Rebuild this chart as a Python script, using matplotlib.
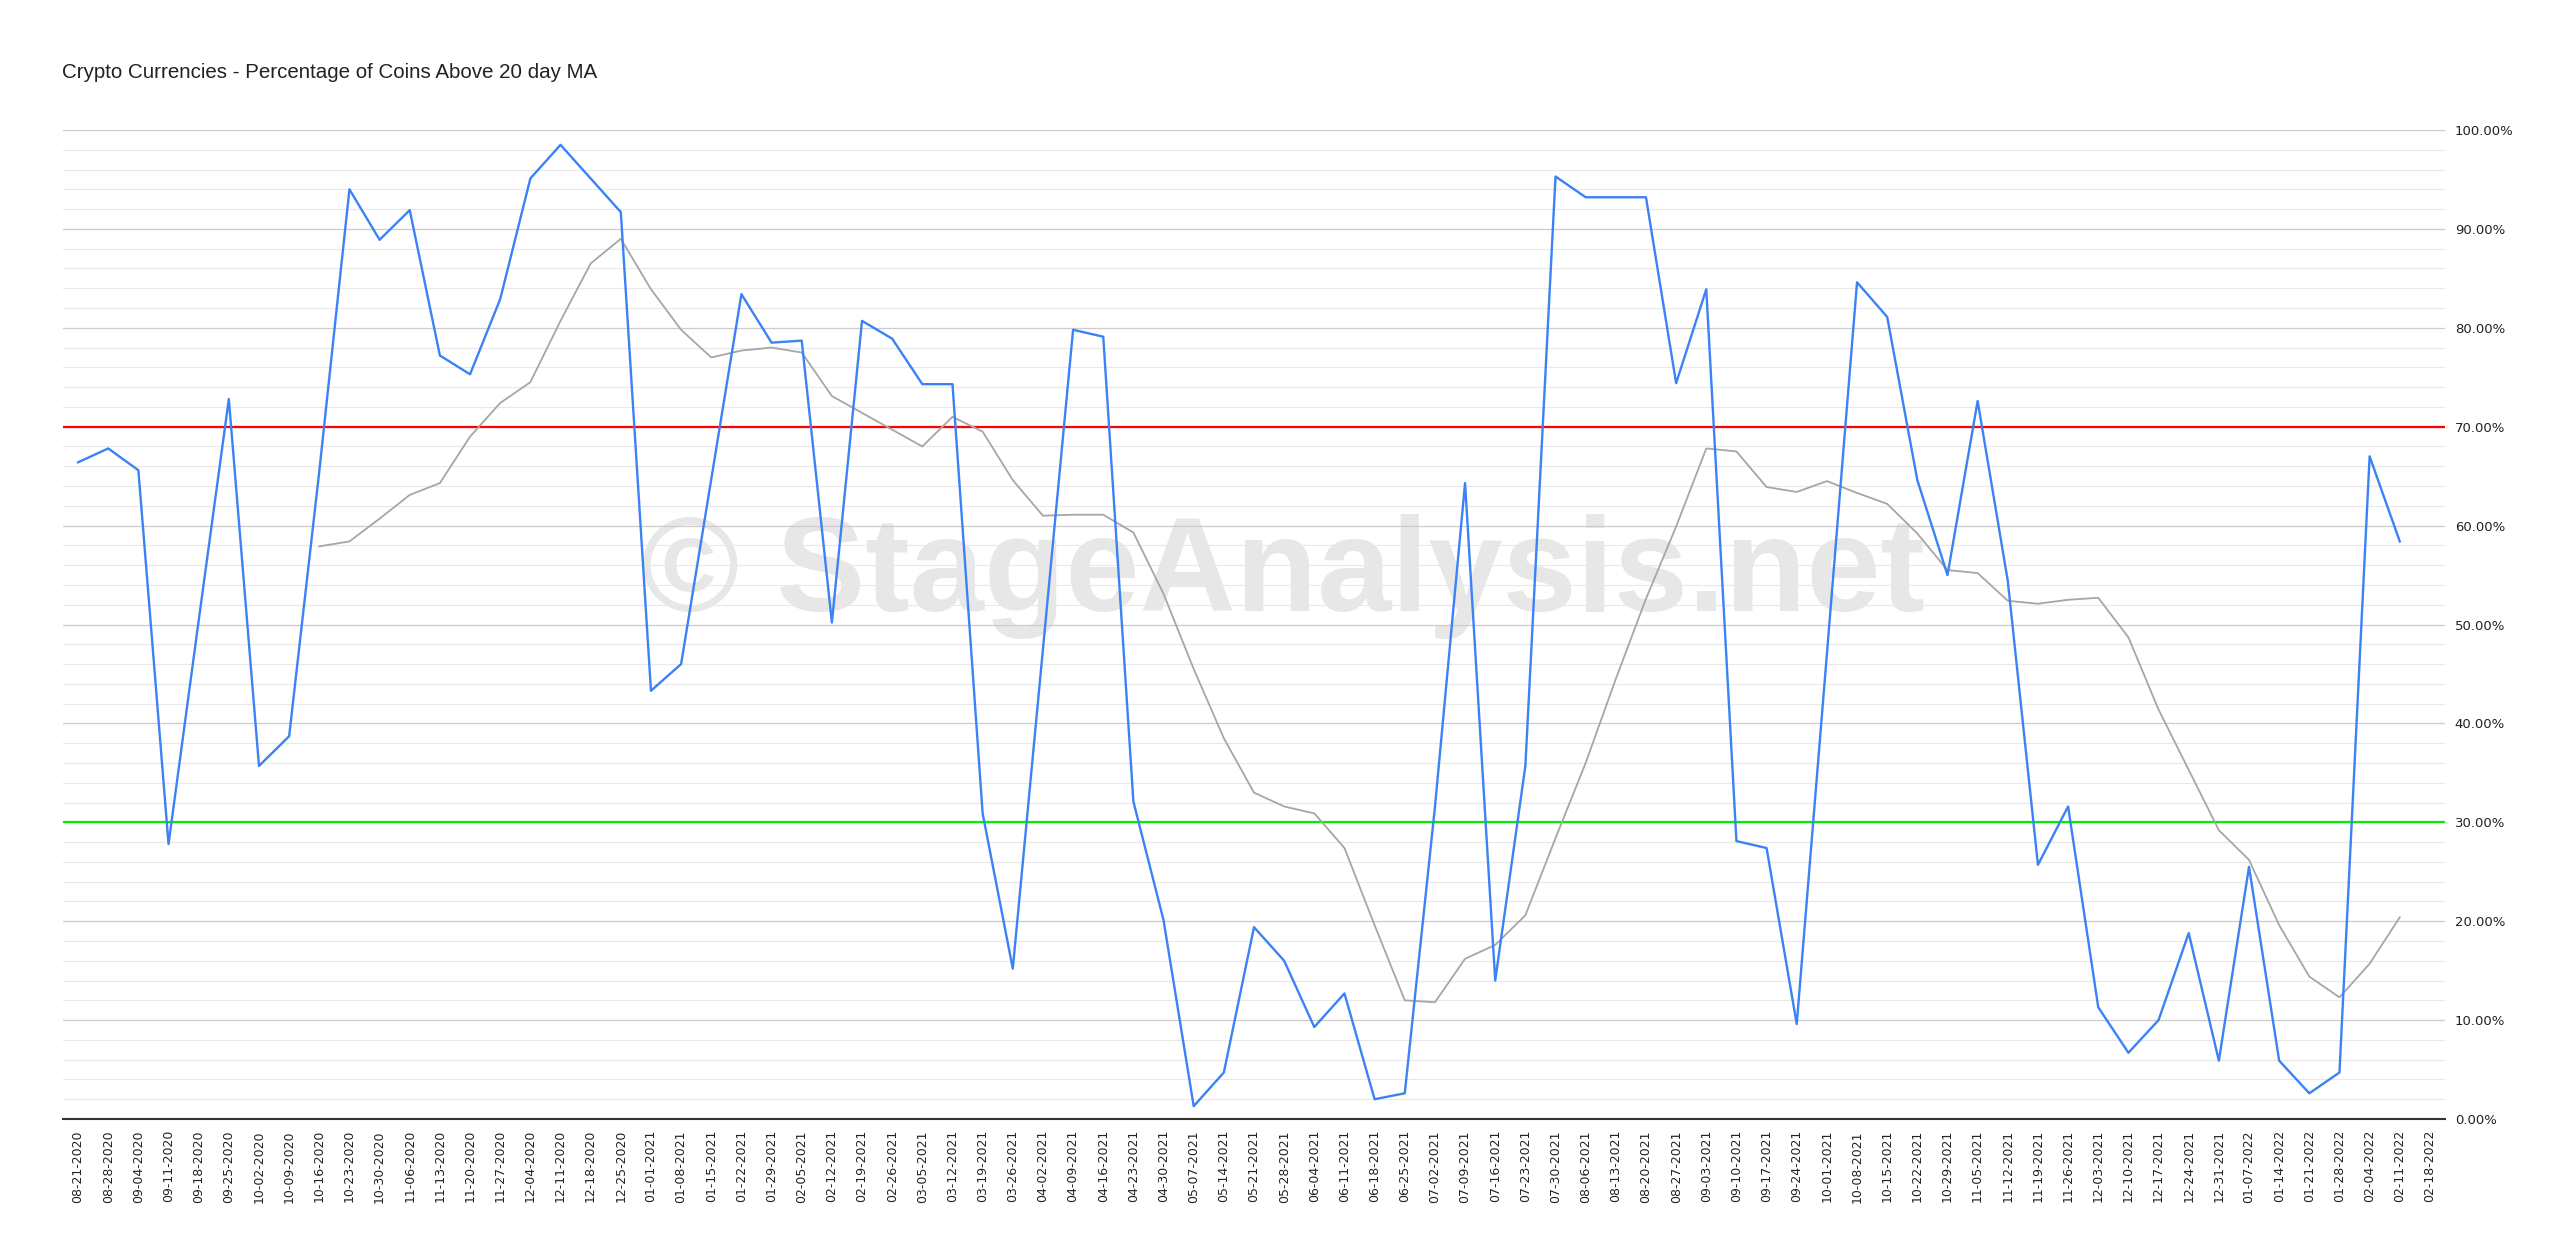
import numpy as np
import matplotlib
matplotlib.use("Agg")
import matplotlib.pyplot as plt
from matplotlib.ticker import MultipleLocator, FuncFormatter

plt.rcParams['font.family'] = ['Liberation Sans', 'DejaVu Sans']

# weekly dates
dates = ['08-21-2020', '08-28-2020', '09-04-2020', '09-11-2020', '09-18-2020', '09-25-2020',
         '10-02-2020', '10-09-2020', '10-16-2020', '10-23-2020', '10-30-2020', '11-06-2020',
         '11-13-2020', '11-20-2020', '11-27-2020', '12-04-2020', '12-11-2020', '12-18-2020',
         '12-25-2020', '01-01-2021', '01-08-2021', '01-15-2021', '01-22-2021', '01-29-2021',
         '02-05-2021', '02-12-2021', '02-19-2021', '02-26-2021', '03-05-2021', '03-12-2021',
         '03-19-2021', '03-26-2021', '04-02-2021', '04-09-2021', '04-16-2021', '04-23-2021',
         '04-30-2021', '05-07-2021', '05-14-2021', '05-21-2021', '05-28-2021', '06-04-2021',
         '06-11-2021', '06-18-2021', '06-25-2021', '07-02-2021', '07-09-2021', '07-16-2021',
         '07-23-2021', '07-30-2021', '08-06-2021', '08-13-2021', '08-20-2021', '08-27-2021',
         '09-03-2021', '09-10-2021', '09-17-2021', '09-24-2021', '10-01-2021', '10-08-2021',
         '10-15-2021', '10-22-2021', '10-29-2021', '11-05-2021', '11-12-2021', '11-19-2021',
         '11-26-2021', '12-03-2021', '12-10-2021', '12-17-2021', '12-24-2021', '12-31-2021',
         '01-07-2022', '01-14-2022', '01-21-2022', '01-28-2022', '02-04-2022', '02-11-2022',
         '02-18-2022']

# % of coins above 20 day MA (last week has no value yet)
pct_above = [66.4, 67.8, 65.6, 27.8, 50.4, 72.8, 35.7, 38.7, 65.5, 94.0,
             88.9, 91.9, 77.2, 75.3, 82.9, 95.1, 98.5, 95.1, 91.7, 43.3,
             46.0, 64.7, 83.4, 78.5, 78.7, 50.2, 80.7, 78.9, 74.3, 74.3,
             30.9, 15.2, 47.5, 79.8, 79.1, 32.1, 20.1, 1.3, 4.7, 19.4,
             16.0, 9.3, 12.7, 2.0, 2.6, 31.5, 64.3, 14.0, 35.7, 95.3,
             93.2, 93.2, 93.2, 74.4, 83.9, 28.1, 27.4, 9.6, 47.0, 84.6,
             81.1, 64.6, 55.0, 72.6, 54.4, 25.7, 31.6, 11.3, 6.7, 10.0,
             18.8, 5.9, 25.5, 5.9, 2.6, 4.7, 67.0, 58.4, np.nan]

# moving average line, starts at 10-16-2020
ma_start = 8
ma_vals = [57.9, 58.4, 60.7, 63.1, 64.3, 69.0, 72.4, 74.5, 80.7, 86.5,
           89.0, 83.9, 79.8, 77.0, 77.7, 78.0, 77.5, 73.1, 71.4, 69.7,
           68.0, 71.0, 69.5, 64.6, 61.0, 61.1, 61.1, 59.3, 53.1, 45.5,
           38.5, 33.0, 31.6, 30.9, 27.4, 19.6, 12.0, 11.8, 16.2, 17.6,
           20.6, 28.4, 36.0, 44.5, 52.6, 59.9, 67.8, 67.5, 63.9, 63.4,
           64.5, 63.3, 62.2, 59.2, 55.5, 55.2, 52.4, 52.1, 52.5, 52.7,
           48.7, 41.4, 35.3, 29.2, 26.2, 19.6, 14.4, 12.3, 15.7, 20.4]

upper_level = 70
lower_level = 30

x = np.arange(len(dates))
x_ma = np.arange(ma_start, ma_start + len(ma_vals))

fig = plt.figure(figsize=(25.6, 12.5), dpi=100)
ax = fig.add_axes([63/2560, 131/1250, 2382/2560, 989/1250])

# grid lines: major every 10%, minor every 2%
ax.yaxis.set_major_locator(MultipleLocator(10))
ax.yaxis.set_minor_locator(MultipleLocator(2))
ax.grid(which='major', axis='y', color='#cccccc', lw=0.9, zorder=0)
ax.grid(which='minor', axis='y', color='#e8e8e8', lw=0.8, zorder=0)

# watermark (semi transparent, grid shows through)
ax.text(0.512, 0.549, '\u00a9 StageAnalysis.net', transform=ax.transAxes, ha='center', va='center',
        fontsize=96, fontweight='bold', color='#d0d0d0', alpha=0.5, zorder=1)

ax.axhline(upper_level, color='#ff0000', lw=1.6, zorder=2)
ax.axhline(lower_level, color='#00ee00', lw=1.6, zorder=2)

ax.plot(x_ma, ma_vals, color='#a6a6a6', lw=1.3, zorder=3)
ax.plot(x, pct_above, color='#3b82f6', lw=1.7, zorder=4)

ax.set_xlim(-0.5, len(dates) - 0.5)
ax.set_ylim(0, 100)

ax.set_xticks(x)
ax.set_xticklabels(dates, rotation=90, fontsize=9, color='#222222', family=['DejaVu Sans'])
ax.yaxis.tick_right()
ax.yaxis.set_major_formatter(FuncFormatter(lambda v, p: '%.2f%%' % v))
ax.tick_params(axis='y', which='both', length=0, pad=7, labelsize=9.5, labelcolor='#222222')
ax.tick_params(axis='x', length=0, pad=8)
for lab in ax.get_yticklabels():
    lab.set_family(['DejaVu Sans'])

for s in ['top', 'left', 'right']:
    ax.spines[s].set_visible(False)
ax.spines['bottom'].set_color('#333333')
ax.spines['bottom'].set_linewidth(1.5)
ax.spines['bottom'].set_zorder(5)

fig.text(62/2560, 1 - 73/1250, 'Crypto Currencies - Percentage of Coins Above 20 day MA',
         fontsize=14.8, va='center', ha='left', color='#222222')

fig.savefig('out.png', dpi=100, facecolor='white')
